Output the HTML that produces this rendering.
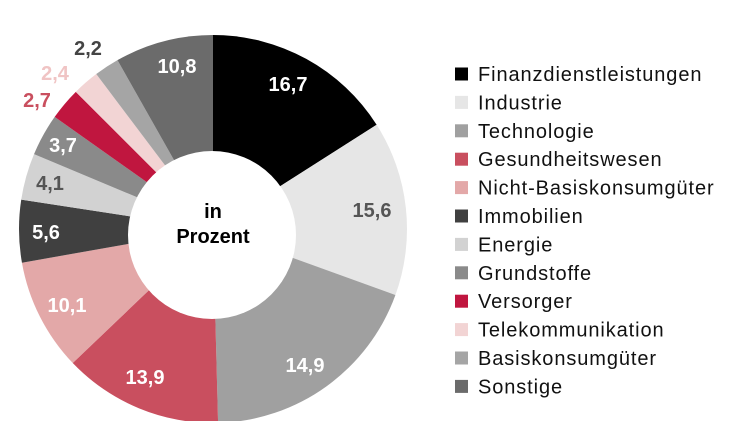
<!DOCTYPE html>
<html><head><meta charset="utf-8"><style>
body{margin:0;background:#fff;width:750px;height:421px;overflow:hidden;font-family:"Liberation Sans",sans-serif}
svg{position:absolute;left:0;top:0}
</style></head><body>
<svg id="s" width="750" height="421" xmlns="http://www.w3.org/2000/svg">
<g id="slices"></g>
<circle cx="212" cy="235" r="84" fill="#fff"/>
<g font-family="Liberation Sans, sans-serif" font-weight="bold" font-size="20" text-anchor="middle">
<text x="213" y="218" fill="#000">in</text>
<text x="213" y="243" fill="#000">Prozent</text>
<text x="288" y="91" fill="#fff">16,7</text>
<text x="372" y="217" fill="#555">15,6</text>
<text x="305" y="372" fill="#fff">14,9</text>
<text x="145" y="384" fill="#fff">13,9</text>
<text x="67" y="312" fill="#fff">10,1</text>
<text x="46" y="239" fill="#fff">5,6</text>
<text x="50" y="190" fill="#555">4,1</text>
<text x="63" y="152" fill="#fff">3,7</text>
<text x="37" y="107" fill="#c94f5f">2,7</text>
<text x="55" y="80" fill="#f0c4c4">2,4</text>
<text x="88" y="55" fill="#444">2,2</text>
<text x="177" y="73" fill="#fff">10,8</text>
</g>
<g id="legend" font-family="Liberation Sans, sans-serif" font-size="20" letter-spacing="0.9" fill="#111"></g>
</svg>
<script>
var d=[[57.5,"#000000","Finanzdienstleistungen"],[109.9,"#e6e6e6","Industrie"],[178.5,"#a0a0a0","Technologie"],[226.3,"#c94f5f","Gesundheitswesen"],[260,"#e3a8a8","Nicht-Basiskonsumgüter"],[278.7,"#404040","Immobilien"],[292.7,"#d2d2d2","Energie"],[305.3,"#8a8a8a","Grundstoffe"],[315,"#c0163f","Versorger"],[323,"#f2d4d4","Telekommunikation"],[330.5,"#a5a5a5","Basiskonsumgüter"],[360,"#6b6b6b","Sonstige"]];
var cx=213,cy=229,r=194,a=0,ns="http://www.w3.org/2000/svg";
var g=document.getElementById("slices"),lg=document.getElementById("legend");
function pt(t){return (cx+r*Math.sin(t)).toFixed(2)+","+(cy-r*Math.cos(t)).toFixed(2)}
d.forEach(function(x,i){
 var b=x[0]*Math.PI/180;
 var p=document.createElementNS(ns,"path");
 p.setAttribute("d","M"+cx+","+cy+" L"+pt(a)+" A"+r+","+r+" 0 0 1 "+pt(b)+" Z");
 p.setAttribute("fill",x[1]);g.appendChild(p);a=b;
 var y=74+i*28.4;
 var rc=document.createElementNS(ns,"rect");
 rc.setAttribute("x",455);rc.setAttribute("y",y-6.5);rc.setAttribute("width",13);rc.setAttribute("height",13);rc.setAttribute("fill",x[1]);lg.appendChild(rc);
 var t=document.createElementNS(ns,"text");
 t.setAttribute("x",478);t.setAttribute("y",y+7);t.textContent=x[2];lg.appendChild(t);
});
</script>
</body></html>
